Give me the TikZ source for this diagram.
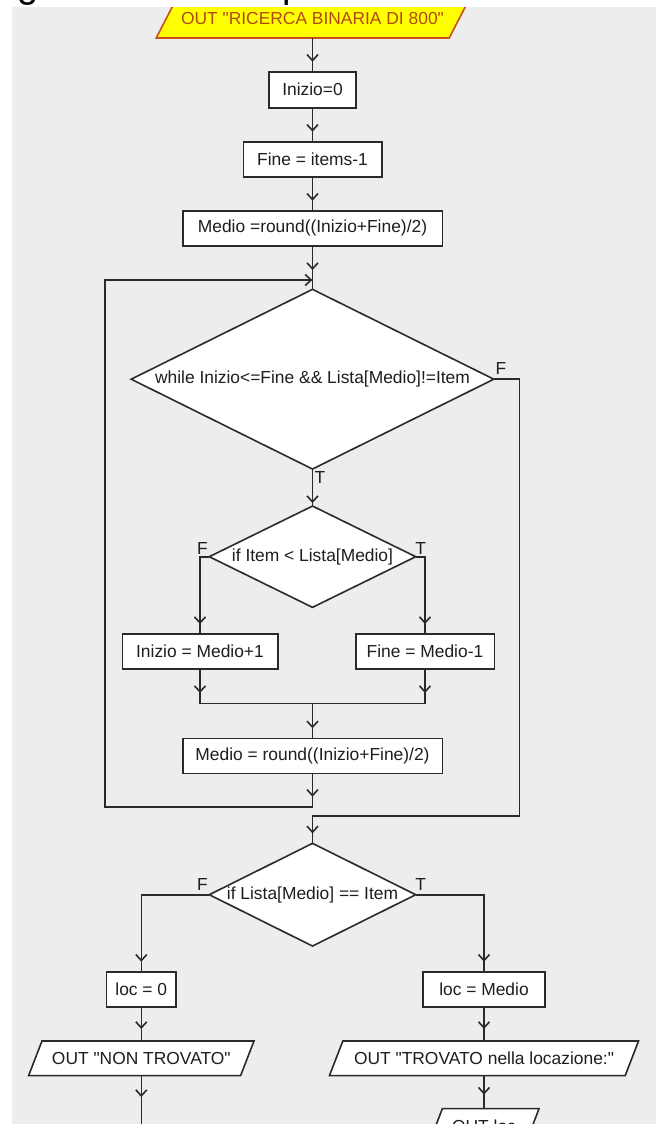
\documentclass[tikz,border=0pt]{standalone}
\usepackage{fontspec}
\setmainfont{Liberation Sans}[Ligatures=TeXOff]
\usetikzlibrary{shapes.geometric,arrows.meta,decorations.markings,backgrounds,calc}
\definecolor{bg}{HTML}{EDEDED}
\definecolor{lc}{HTML}{2A2A2A}
\definecolor{tc}{HTML}{1E1E1E}
\definecolor{ylw}{HTML}{FFFF00}
\definecolor{obrd}{HTML}{C8501E}
\definecolor{otxt}{HTML}{B04A10}
\newcommand\drawpara[3]{\path[parashape,#3] ($(#1.south west)+(-#2,0)$) -- ($(#1.south east)+(-#2,0)$) -- ($(#1.north east)+(#2,0)$) -- ($(#1.north west)+(#2,0)$) -- cycle;}
\tikzset{
 txt/.style={font=\fontsize{8.7pt}{10pt}\selectfont, text=tc, inner sep=0pt, outer sep=0pt},
 box/.style={txt, rectangle, draw=lc, fill=white, line width=0.8pt, minimum height=17.5pt},
 dia/.style={txt, diamond, aspect=2, draw=lc, fill=white, line width=0.8pt, text height=6.3pt, text depth=1.7pt},
 paratext/.style={txt, rectangle, minimum height=17.35pt},
 parashape/.style={draw=lc, fill=white, line width=0.8pt},
 lbl/.style={txt},
 conn/.style={draw=lc, line width=0.8pt},
 chevtip/.tip={Straight Barb[length=3pt,width=5.5pt,line width=0.8pt]},
 chev/.style={postaction={decorate}, decoration={markings, mark=at position #1 with {\arrow{chevtip}}}},
 loopchev/.style={postaction={decorate}, decoration={markings, mark=at position 11.7pt with {\arrow{chevtip}}, mark=at position -0.1pt with {\arrow{chevtip}}}},
}
\begin{document}
\begin{tikzpicture}[x=0.5pt,y=-0.5pt]
\useasboundingbox (0,0) rectangle (656,1124);
\clip (0,0) rectangle (656,1124);
\begin{scope}[on background layer]
 \fill[white] (0,0) rectangle (656,1124);
 \fill[bg] (12,7) rectangle (656,1124);
\end{scope}

% nodes
\node[paratext, minimum width=146.5pt, minimum height=19pt, text=otxt] (out1) at (312.5,19) {OUT "RICERCA BINARIA DI 800"};
\node[box, minimum width=43.7pt, minimum height=18pt] (ini) at (312.5,89.7) {Inizio=0};
\node[box, minimum width=69.2pt] (fine) at (312.5,159.2) {Fine = items-1};
\node[box, minimum width=129.8pt] (med1) at (312.5,228.2) {Medio =round((Inizio+Fine)/2)};
\coordinate (junc) at (312.5,280);
\node[dia, minimum width=181.3pt, minimum height=89.85pt] (wh) at (312.5,379.2) {while Inizio<=Fine \&\& Lista[Medio]!=Item};
\node[dia, minimum width=103.2pt, minimum height=50.65pt] (if1) at (312.5,556.7) {if Item < Lista[Medio]};
\node[box, minimum width=77.7pt] (inc) at (200,651.5) {Inizio = Medio+1};
\node[box, minimum width=69.3pt] (dec) at (425,651.5) {Fine = Medio-1};
\coordinate (mg) at (312.5,703.3);
\node[box, minimum width=129.8pt] (med2) at (312.5,755.8) {Medio = round((Inizio+Fine)/2)};
\coordinate (lb) at (312.5,806.7);
\coordinate (lt) at (104.7,280);
\coordinate (fr) at (519.3,815.7);
\node[dia, minimum width=103.2pt, minimum height=51.35pt] (if2) at (312.5,894.7) {if Lista[Medio] == Item};
\node[box, minimum width=34.65pt] (loc0) at (141.3,989.2) {loc = 0};
\node[box, minimum width=60.85pt] (locm) at (484,989.2) {loc = Medio};
\node[paratext, minimum width=106pt] (ntr) at (141.3,1058.3) {OUT "NON TROVATO"};
\node[paratext, minimum width=147.85pt] (tr) at (484,1058.3) {OUT "TROVATO nella locazione:"};
\node[paratext, minimum width=48.35pt] (oloc) at (484,1126) {OUT loc};
\coordinate (endl) at (141.3,1124);

% parallelogram outlines
\begin{scope}[on background layer]
 \drawpara{out1}{4.9pt}{fill=ylw, draw=obrd}
 \drawpara{ntr}{3.35pt}{}
 \drawpara{tr}{3.35pt}{}
 \drawpara{oloc}{3.35pt}{}
\end{scope}

% labels
\node[lbl] (wF) at (501,369) {F};
\node[lbl] (wT) at (320,478) {T};
\node[lbl] (i1F) at (202.5,549) {F};
\node[lbl] (i1T) at (420.8,549) {T};
\node[lbl] (i2F) at (202.5,885) {F};
\node[lbl] (i2T) at (420.8,885) {T};

% connectors
\draw[conn, chev=-5pt] (out1.south) -- (ini.north);
\draw[conn, chev=-5pt] (ini.south) -- (fine.north);
\draw[conn, chev=-5pt] (fine.south) -- (med1.north);
\draw[conn, chev=-5pt] (med1.south) -- (junc);
\draw[conn] (junc) -- (wh.north);
\draw[conn, chev=-1.5pt] (wh.south) -- (if1.north);
\draw[conn, chev=-5pt] (if1.west) -| (inc.north);
\draw[conn, chev=-5pt] (if1.east) -| (dec.north);
\draw[conn, chev=12pt] (inc.south) |- (mg);
\draw[conn, chev=12pt] (dec.south) |- (mg);
\draw[conn, chev=-5pt] (mg) -- (med2.north);
\draw[conn, loopchev] (med2.south) -- (lb) -| (lt) -- (junc);
\draw[conn, chev=-5pt] (wh.east) -| (fr) -| (if2.north);
\draw[conn, chev=-5pt] (if2.west) -| (loc0.north);
\draw[conn, chev=-5pt] (if2.east) -| (locm.north);
\draw[conn, chev=-6pt] (loc0.south) -- (ntr.north);
\draw[conn, chev=-6pt] (locm.south) -- (tr.north);
\draw[conn, chev=-7pt] (tr.south) -- (oloc.north);
\draw[conn, chev=-13.5pt] (ntr.south) -- (endl);

% white top strip and cut-off caption letters
\fill[white] (0,0) rectangle (656,7);
\node[anchor=base, font=\fontsize{19pt}{22pt}\selectfont, inner sep=0pt] (gfrag) at (28.5,-3) {g};
\node[anchor=base, font=\fontsize{19pt}{22pt}\selectfont, inner sep=0pt] (pfrag) at (293,-3) {p};
\end{tikzpicture}
\end{document}
